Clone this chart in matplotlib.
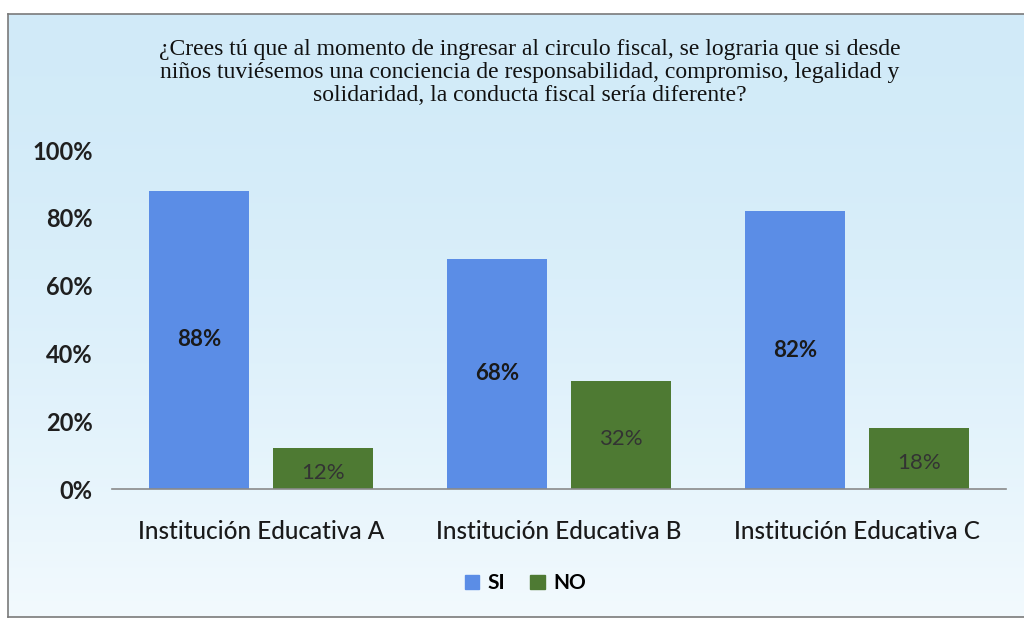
import numpy as np
import matplotlib
matplotlib.use("Agg")
import matplotlib.pyplot as plt

categories = ["Institución Educativa A", "Institución Educativa B", "Institución Educativa C"]
si_values = [88, 68, 82]
no_values = [12, 32, 18]
series_names = ["SI", "NO"]
y_ticks = [0, 20, 40, 60, 80, 100]
title = ("¿Crees tú que al momento de ingresar al circulo fiscal, se lograria que si desde\n"
         "niños tuviésemos una conciencia de responsabilidad, compromiso, legalidad y\n"
         "solidaridad, la conducta fiscal sería diferente?")

blue = "#5b8de6"
green = "#4e7a33"

fig = plt.figure(figsize=(10.24, 6.22), dpi=100)
fig.patch.set_facecolor("white")

# light blue gradient panel behind the chart
bg = fig.add_axes([0.0078, 0.008, 0.9922, 0.9695], zorder=-2)
grad = np.linspace(0, 1, 256).reshape(-1, 1)
top_c = np.array([0.82, 0.92, 0.975])
bot_c = np.array([0.95, 0.98, 0.995])
img = top_c + (bot_c - top_c) * grad[..., None] ** 1.6
bg.imshow(img.repeat(2, axis=1), aspect="auto", extent=[0, 1, 0, 1], origin="upper")
bg.set_xlim(0, 1)
bg.set_ylim(0, 1)
bg.set_xticks([])
bg.set_yticks([])
bg.spines["right"].set_visible(False)
for side in ["left", "top", "bottom"]:
    bg.spines[side].set_color("#7a7a7a")
    bg.spines[side].set_linewidth(1.2)

ax = fig.add_axes([0.1094, 0.2138, 0.873, 0.545])
ax.patch.set_alpha(0)

x = np.arange(len(categories))
w = 0.335
off = 0.207
b1 = ax.bar(x - off, np.array(si_values) / 100, w, color=blue, label=series_names[0])
b2 = ax.bar(x + off, np.array(no_values) / 100, w, color=green, label=series_names[1])

for rect, v in zip(b1, si_values):
    ax.text(rect.get_x() + rect.get_width() / 2, rect.get_height() / 2, f"{v}%",
            ha="center", va="center", fontsize=16, fontweight="bold",
            family="Lato", color="#1a1a1a")
for rect, v in zip(b2, no_values):
    ax.text(rect.get_x() + rect.get_width() / 2, rect.get_height() / 2 - 0.012, f"{v}%",
            ha="center", va="center", fontsize=16, family="Lato", color="#333333")

ax.set_xlim(-0.5, 2.5)
ax.set_ylim(0, 1)
ax.set_yticks([t / 100 for t in y_ticks])
ax.set_yticklabels([f"{t}%" for t in y_ticks], family="Lato", fontweight="bold",
                   fontsize=17, color="#1f1f1f")
ax.set_xticks(x)
ax.set_xticklabels(categories, family="Lato", fontsize=17.5, fontweight="medium",
                   color="#1a1a1a")
ax.tick_params(axis="y", length=0, pad=14)
ax.tick_params(axis="x", length=0, pad=22)
for side in ["left", "right", "top"]:
    ax.spines[side].set_visible(False)
ax.spines["bottom"].set_color("#8a8a8a")
ax.spines["bottom"].set_linewidth(1.2)

fig.text(0.517, 0.938, title, ha="center", va="top", family="Liberation Serif",
         fontsize=17, linespacing=1.13, color="#111111")

handles = [plt.Rectangle((0, 0), 1, 1, color=blue), plt.Rectangle((0, 0), 1, 1, color=green)]
fig.legend(handles, series_names, loc="center", bbox_to_anchor=(0.513, 0.062), ncol=2,
           frameon=False, prop={"family": "Lato", "size": 15, "weight": "bold"},
           handlelength=0.7, handleheight=0.7, handletextpad=0.4, columnspacing=1.2)

fig.savefig("out.png", dpi=100)
